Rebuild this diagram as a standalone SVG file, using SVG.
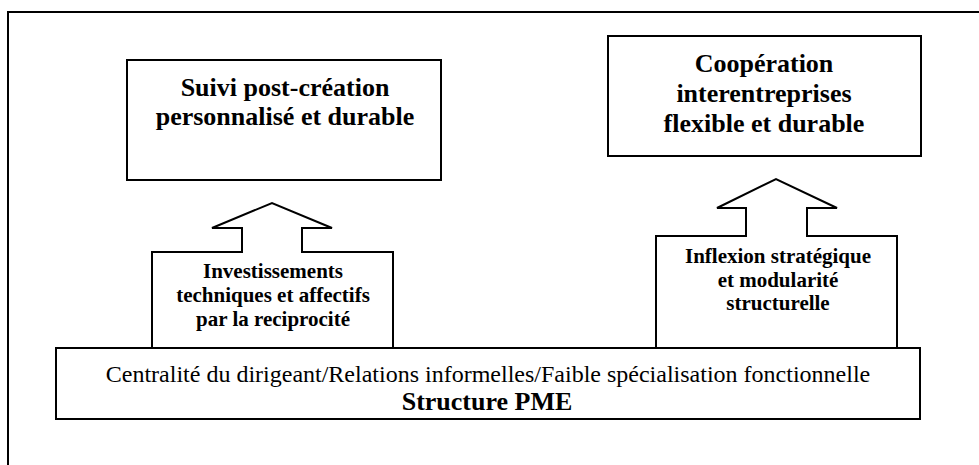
<svg xmlns="http://www.w3.org/2000/svg" width="979" height="465" viewBox="0 0 979 465">
<style>
.box{fill:#fff;stroke:#000;stroke-width:2}
.frame{fill:none;stroke:#000;stroke-width:2}
text{font-family:'Liberation Serif','DejaVu Serif','Times New Roman',serif;fill:#000;text-anchor:middle}
.big{font-size:26px;font-weight:bold}
.mid{font-size:21px;font-weight:bold}
.reg{font-size:24px}
.pme{font-size:26px;font-weight:bold}
</style>
<rect width="979" height="465" fill="#fff"/>
<g id="frame"><path class="frame" d="M8,465 V12 H979"/></g>
<g id="suivi" font-family="Liberation Serif, DejaVu Serif, serif">
<rect class="box" x="127" y="60" width="314" height="120"/>
<text class="big" x="285" y="96">Suivi post-création</text>
<text class="big" x="285" y="125">personnalisé et durable</text>
</g>
<g id="cooperation" font-family="Liberation Serif, DejaVu Serif, serif">
<rect class="box" x="608" y="36" width="313" height="120"/>
<text class="big" x="764" y="72">Coopération</text>
<text class="big" x="764" y="102">interentreprises</text>
<text class="big" x="764" y="132">flexible et durable</text>
</g>
<g id="investissements" font-family="Liberation Serif, DejaVu Serif, serif">
<path class="box" d="M152,348 V252 H242 V228 H212 L272,203 L332,228 H302 V252 H393 V348 Z"/>
<text class="mid" x="273" y="278">Investissements</text>
<text class="mid" x="273" y="302">techniques et affectifs</text>
<text class="mid" x="273" y="326">par la reciprocité</text>
</g>
<g id="inflexion" font-family="Liberation Serif, DejaVu Serif, serif">
<path class="box" d="M656,348 V236 H746 V208 H717 L776,179 L837,208 H807 V236 H897 V348 Z"/>
<text class="mid" x="778" y="263">Inflexion stratégique</text>
<text class="mid" x="778" y="287">et modularité</text>
<text class="mid" x="778" y="310">structurelle</text>
</g>
<g id="structure" font-family="Liberation Serif, DejaVu Serif, serif">
<rect class="box" x="56" y="348" width="864" height="71"/>
<text class="reg" x="488" y="382">Centralité du dirigeant/Relations informelles/Faible spécialisation fonctionnelle</text>
<text class="pme" x="487" y="410">Structure PME</text>
</g>
<g id="connectors"></g>
</svg>
